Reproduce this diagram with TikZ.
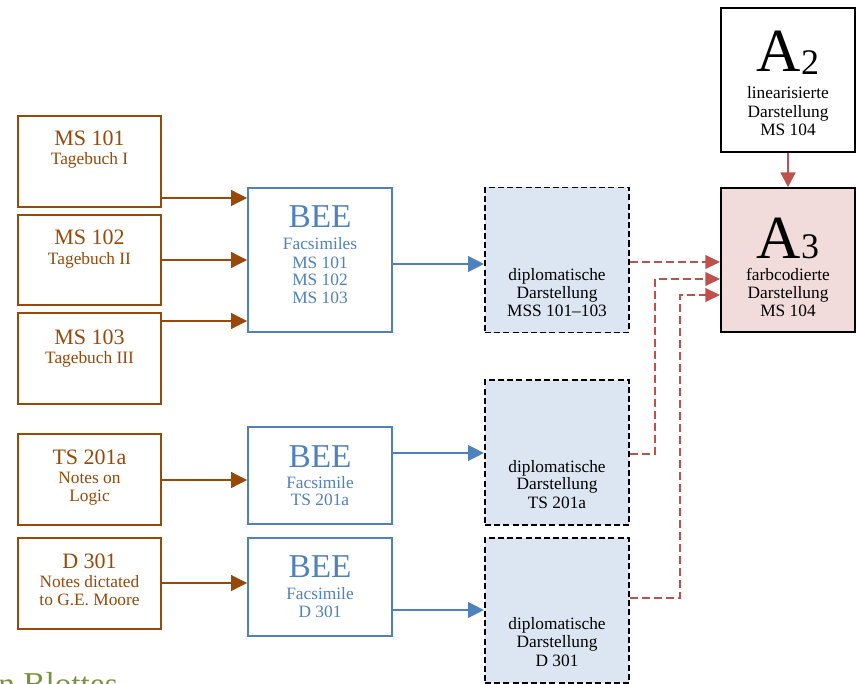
\documentclass[tikz,border=0pt]{standalone}
\usepackage{fontspec}
\setmainfont{Liberation Serif}
\usetikzlibrary{arrows.meta}
\definecolor{brn}{HTML}{984807}
\definecolor{blu}{HTML}{4F81BD}
\definecolor{rd}{HTML}{C0504D}
\definecolor{bfill}{HTML}{DCE6F2}
\definecolor{rfill}{HTML}{F2DCDB}
\definecolor{grn}{HTML}{77933C}
\newcommand{\tx}[5]{\node[#2,anchor=base] (#1) at (#3,#4) {#5};}
\begin{document}
\begin{tikzpicture}[x=0.75pt,y=-0.75pt,
  srcbox/.style={draw=brn,line width=1.5pt,minimum width=107.25pt,inner sep=0pt},
  beebox/.style={draw=blu,line width=1.2pt,minimum width=108pt,inner sep=0pt},
  dipbox/.style={draw=black,fill=bfill,line width=1.4pt,dash pattern=on 4.5pt off 2.4pt,minimum width=108pt,minimum height=108.75pt,inner sep=0pt},
  abox/.style={draw=black,line width=1.3pt,minimum width=100.5pt,minimum height=108pt,inner sep=0pt},
  srctitle/.style={text=brn,font=\fontsize{16.5}{16.5}\selectfont,inner sep=0pt},
  srcsub/.style={text=brn,font=\fontsize{13}{13}\selectfont,inner sep=0pt},
  beetitle/.style={text=blu,font=\fontsize{25}{25}\selectfont,inner sep=0pt},
  beesub/.style={text=blu,font=\fontsize{13}{13}\selectfont,inner sep=0pt},
  blk/.style={text=black,font=\fontsize{13}{13}\selectfont,inner sep=0pt},
  brarrow/.style={draw=brn,line width=2pt,-{Triangle[length=12pt,width=11.5pt]}},
  blarrow/.style={draw=blu,line width=2pt,-{Triangle[length=12pt,width=11.5pt]}},
  rdarrow/.style={draw=rd,line width=2pt,-{Triangle[length=11pt,width=11pt]}},
  rddash/.style={draw=rd,line width=1.8pt,dash pattern=on 6pt off 3pt,-{Triangle[length=11pt,width=10pt]}},
]
\useasboundingbox (0,0) rectangle (856,684);

% source boxes
\node[srcbox,minimum height=68.25pt] (ms101) at (89.5,161.5) {};
\node[srcbox,minimum height=67.5pt] (ms102) at (89.5,260) {};
\node[srcbox,minimum height=68.25pt] (ms103) at (89.5,358.5) {};
\node[srcbox,minimum height=68.25pt] (ts201) at (89.5,479.5) {};
\node[srcbox,minimum height=68.25pt] (d301) at (89.5,583.5) {};
\tx{ms101a}{srctitle}{89.5}{146}{MS 101}
\tx{ms101b}{srcsub}{89.5}{165}{Tagebuch I}
\tx{ms102a}{srctitle}{89.5}{245}{MS 102}
\tx{ms102b}{srcsub}{89.5}{264}{Tagebuch II}
\tx{ms103a}{srctitle}{89.5}{344}{MS 103}
\tx{ms103b}{srcsub}{89.5}{363}{Tagebuch III}
\tx{ts201a}{srctitle}{89.5}{464}{TS 201a}
\tx{ts201b}{srcsub}{89.5}{483}{Notes on}
\tx{ts201c}{srcsub}{89.5}{501}{Logic}
\tx{d301a}{srctitle}{89.5}{568}{D 301}
\tx{d301b}{srcsub}{89.5}{587}{Notes dictated}
\tx{d301c}{srcsub}{89.5}{605.5}{to G.E. Moore}

% BEE boxes
\node[beebox,minimum height=108pt] (bee1) at (320,260) {};
\node[beebox,minimum height=72.75pt] (bee2) at (320,475.5) {};
\node[beebox,minimum height=73.5pt] (bee3) at (320,587) {};
\tx{bee1a}{beetitle}{320}{228}{BEE}
\tx{bee1b}{beesub}{320}{250}{Facsimiles}
\tx{bee1c}{beesub}{320}{268}{MS 101}
\tx{bee1d}{beesub}{320}{285.5}{MS 102}
\tx{bee1e}{beesub}{320}{303}{MS 103}
\tx{bee2a}{beetitle}{320}{467}{BEE}
\tx{bee2b}{beesub}{320}{488}{Facsimile}
\tx{bee2c}{beesub}{320}{505.5}{TS 201a}
\tx{bee3a}{beetitle}{320}{577}{BEE}
\tx{bee3b}{beesub}{320}{599}{Facsimile}
\tx{bee3c}{beesub}{320}{617}{D 301}

% diplomatic boxes
\node[dipbox] (dip1) at (557,260) {};
\node[dipbox] (dip2) at (557,452.5) {};
\node[dipbox] (dip3) at (557,610.5) {};
\tx{dip1a}{blk}{557}{280}{diplomatische}
\tx{dip1b}{blk}{557}{298}{Darstellung}
\tx{dip1c}{blk}{557}{316}{MSS 101–103}
\tx{dip2a}{blk}{557}{472}{diplomatische}
\tx{dip2b}{blk}{557}{489.5}{Darstellung}
\tx{dip2c}{blk}{557}{508}{TS 201a}
\tx{dip3a}{blk}{557}{629}{diplomatische}
\tx{dip3b}{blk}{557}{647.5}{Darstellung}
\tx{dip3c}{blk}{557}{666}{D 301}

% A boxes
\node[abox] (a2) at (788,80) {};
\node[abox,fill=rfill] (a3) at (788,260) {};
\node[anchor=base,inner sep=0pt] (a2t) at (788,72) {\fontsize{46}{46}\selectfont A\raisebox{-2pt}{\fontsize{27}{27}\selectfont 2}};
\tx{a2b}{blk}{788}{99}{linearisierte}
\tx{a2c}{blk}{788}{117.5}{Darstellung}
\tx{a2d}{blk}{788}{136}{MS 104}
\node[anchor=base,inner sep=0pt] (a3t) at (788,258) {\fontsize{46}{46}\selectfont A\raisebox{-0.5pt}{\fontsize{27}{27}\selectfont 3}};
\tx{a3b}{blk}{788}{280}{farbcodierte}
\tx{a3c}{blk}{788}{298}{Darstellung}
\tx{a3d}{blk}{788}{316}{MS 104}

% partial title
\node[anchor=base west,inner sep=0pt,text=grn,font=\fontsize{25}{25}\selectfont] (ttl) at (-2,695) {n Blottes};

% arrows
\draw[brarrow] (ms101.east |- 0,198) -- (bee1.west |- 0,198);
\draw[brarrow] (ms102.east |- 0,260) -- (bee1.west |- 0,260);
\draw[brarrow] (ms103.east |- 0,321) -- (bee1.west |- 0,321);
\draw[brarrow] (ts201.east |- 0,480) -- (bee2.west |- 0,480);
\draw[brarrow] (d301.east |- 0,583) -- (bee3.west |- 0,583);
\draw[blarrow] (bee1.east |- 0,264) -- (dip1.west |- 0,264);
\draw[blarrow] (bee2.east |- 0,453) -- (dip2.west |- 0,453);
\draw[blarrow] (bee3.east |- 0,610) -- (dip3.west |- 0,610);
\draw[rdarrow] (a2.south) -- (a3.north);
\coordinate (k2) at (655,454);
\coordinate (k3) at (680,598);
\draw[rddash] (dip1.east |- 0,262) -- (a3.west |- 0,262);
\draw[rddash] (dip2.east |- 0,454) -- (k2) |- (a3.west |- 0,279);
\draw[rddash] (dip3.east |- 0,598) -- (k3) |- (a3.west |- 0,295);
\end{tikzpicture}
\end{document}
